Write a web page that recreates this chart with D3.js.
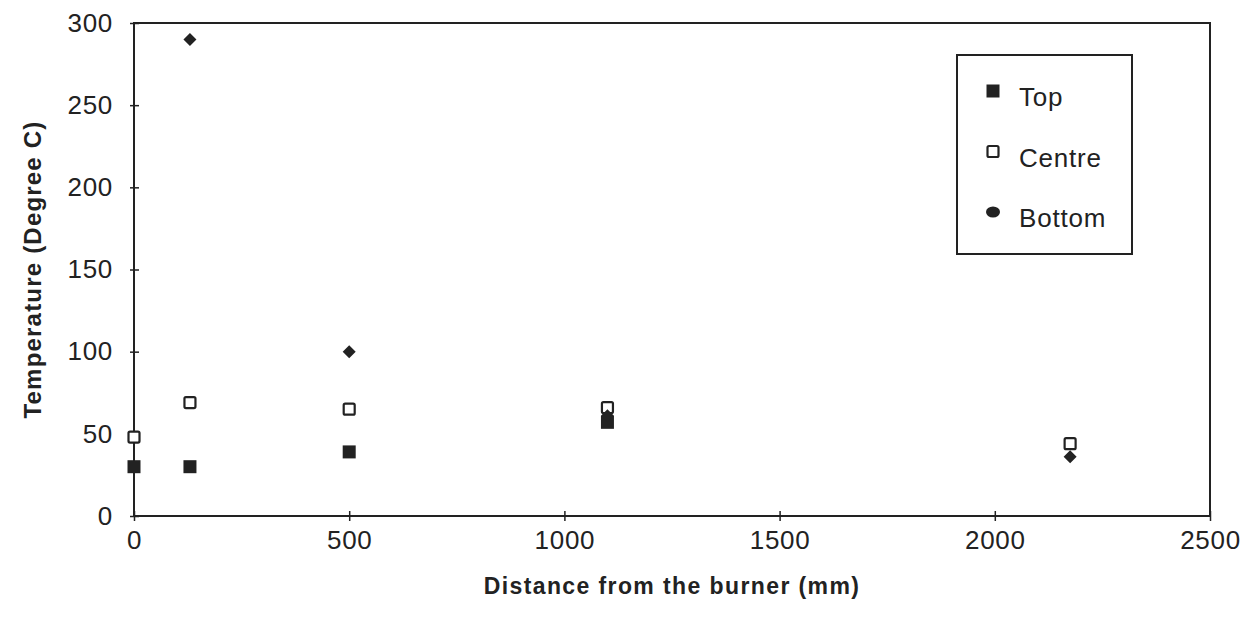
<!DOCTYPE html>
<html><head><meta charset="utf-8">
<script src="https://cdn.jsdelivr.net/npm/d3@7"></script>
<style>body{margin:0;background:#fff;} svg{display:block;font-family:"Liberation Sans",Arial,sans-serif;}</style>
</head><body>
<svg id="c" width="1249" height="619"></svg>
<script>
const xTicks = [0, 500, 1000, 1500, 2000, 2500];
const yTicks = [0, 50, 100, 150, 200, 250, 300];
const seriesNames = ["Top", "Centre", "Bottom"];
const topX = [0, 130, 500, 1100];
const topY = [30, 30, 39, 57];
const centreX = [0, 130, 500, 1100, 2175];
const centreY = [48, 69, 65, 66, 44];
const bottomX = [130, 500, 1100, 2175];
const bottomY = [290, 100, 61, 36];

const svg = d3.select("#c");
const L = 134, R = 1210, T = 23, B = 516;
const x = d3.scaleLinear().domain([0, 2500]).range([L, R]);
const y = d3.scaleLinear().domain([0, 300]).range([B, T]);
const ink = "#222";
const FF = "Liberation Sans, Arial, sans-serif";

// frame
svg.append("rect").attr("x", L).attr("y", T).attr("width", R - L).attr("height", B - T)
  .attr("fill", "none").attr("stroke", ink).attr("stroke-width", 2);

// y axis
const ya = svg.append("g").attr("transform", `translate(${L},0)`)
  .call(d3.axisLeft(y).tickValues(yTicks).tickSize(0).tickPadding(21).tickFormat(d3.format("d")));
ya.select(".domain").remove();
ya.selectAll("text").attr("font-size", 26).attr("letter-spacing", 0.7).attr("fill", ink).attr("font-family", FF);
ya.selectAll(".tick").append("line").attr("x1", -4).attr("x2", 5).attr("stroke", ink).attr("stroke-width", 1.5);

// x axis
const xa = svg.append("g").attr("transform", `translate(0,${B})`)
  .call(d3.axisBottom(x).tickValues(xTicks).tickSize(0).tickPadding(0).tickFormat(d3.format("d")));
xa.select(".domain").remove();
xa.selectAll("text").attr("font-size", 26).attr("letter-spacing", 0.7).attr("fill", ink)
  .attr("y", 33).attr("dy", 0).attr("font-family", FF);
xa.selectAll(".tick").append("line").attr("y1", -5).attr("y2", 5).attr("stroke", ink).attr("stroke-width", 1.5);

// axis titles
svg.append("text").attr("x", (L + R) / 2).attr("y", 594).attr("text-anchor", "middle")
  .attr("font-size", 23).attr("letter-spacing", 1.4).attr("font-weight", "bold").attr("fill", ink).text("Distance from the burner (mm)");
svg.append("text").attr("transform", `translate(41,${(T + B) / 2}) rotate(-90)`).attr("text-anchor", "middle")
  .attr("font-size", 24).attr("letter-spacing", 1.2).attr("font-weight", "bold").attr("fill", ink).text("Temperature (Degree C)");

const sq = 13;
function drawTop(g, px, py) {
  g.append("rect").attr("x", px - sq / 2).attr("y", py - sq / 2).attr("width", sq).attr("height", sq).attr("fill", ink);
}
function drawCentre(g, px, py) {
  g.append("rect").attr("x", px - sq / 2 + 1).attr("y", py - sq / 2 + 1).attr("width", sq - 2).attr("height", sq - 2)
    .attr("rx", 1.5).attr("fill", "#fff").attr("stroke", ink).attr("stroke-width", 2.2);
}
function drawBottom(g, px, py) {
  const s = 6.5;
  g.append("path").attr("d", `M${px},${py - s}L${px + s},${py}L${px},${py + s}L${px - s},${py}Z`).attr("fill", ink);
}
function drawBottomLegend(g, px, py) {
  g.append("ellipse").attr("cx", px).attr("cy", py).attr("rx", 7).attr("ry", 5.5).attr("fill", ink);
}

const pts = svg.append("g");
centreX.forEach((d, i) => drawCentre(pts, x(d), y(centreY[i])));
topX.forEach((d, i) => drawTop(pts, x(d), y(topY[i])));
bottomX.forEach((d, i) => drawBottom(pts, x(d), y(bottomY[i])));

// legend
const lg = svg.append("g");
lg.append("rect").attr("x", 957).attr("y", 55).attr("width", 175).attr("height", 199)
  .attr("fill", "#fff").attr("stroke", ink).attr("stroke-width", 2);
const drawers = [drawTop, drawCentre, drawBottomLegend];
seriesNames.forEach((n, i) => {
  const cy = 96 + i * 60.5;
  drawers[i](lg, 993, cy - 5);
  lg.append("text").attr("x", 1019).attr("y", cy + 10).attr("font-size", 26).attr("letter-spacing", 0.8)
    .attr("fill", ink).attr("font-family", FF).text(n);
});
</script>
</body></html>
